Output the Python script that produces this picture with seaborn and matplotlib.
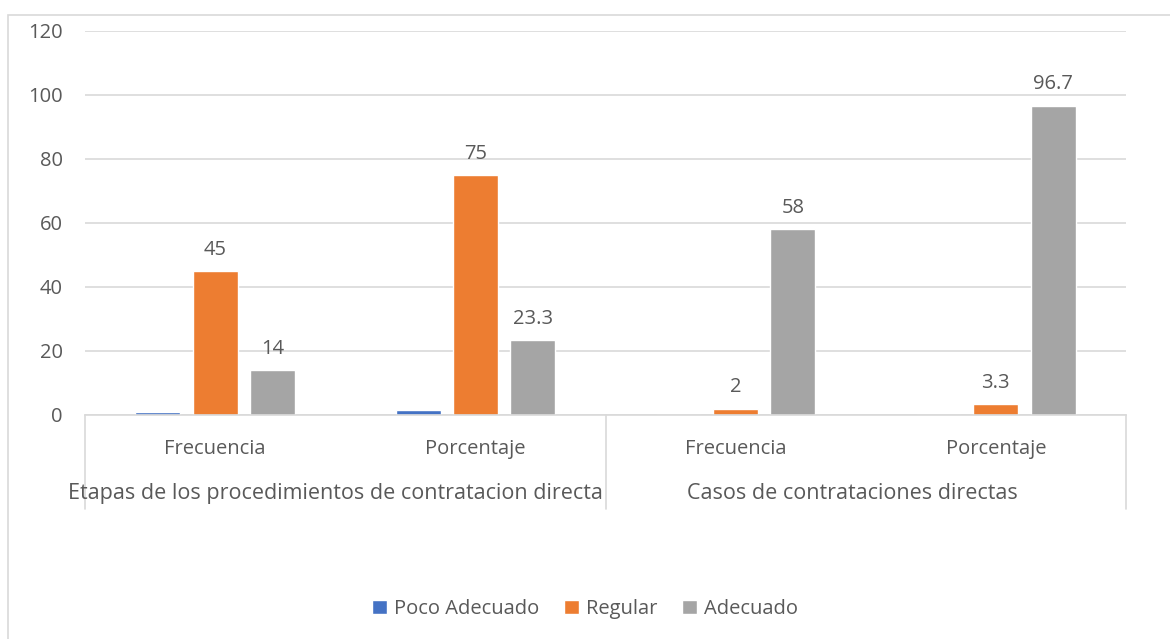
# Barras agrupadas: frecuencia y porcentaje por nivel de adecuación
import matplotlib

matplotlib.use("Agg")

import matplotlib.pyplot as plt  # noqa: E402
import pandas as pd  # noqa: E402
import seaborn as sns  # noqa: E402

# Datos
grupos = ["Etapas de los procedimientos de contratacion directa",
          "Casos de contrataciones directas"]
medidas = ["Frecuencia", "Porcentaje", "Frecuencia", "Porcentaje"]
niveles = ["Poco Adecuado", "Regular", "Adecuado"]
poco_adecuado = [1, 1.7, 0, 0]
regular = [45, 75, 2, 3.3]
adecuado = [14, 23.3, 58, 96.7]
yticks = [0, 20, 40, 60, 80, 100, 120]

colores = ["#4472C4", "#ED7D31", "#A5A5A5"]
gris_texto = "#595959"
gris_linea = "#D9D9D9"

# Tabla larga para seaborn; claves únicas porque las medidas se repiten
claves = [f"{i}-{m}" for i, m in enumerate(medidas)]
filas = []
for nivel, vals in zip(niveles, [poco_adecuado, regular, adecuado]):
    for k, v in zip(claves, vals):
        filas.append({"clave": k, "nivel": nivel, "valor": v})
df = pd.DataFrame(filas)

sns.set_theme(style="white")
plt.rcParams["font.family"] = ["Open Sans", "DejaVu Sans"]

fig = plt.figure(figsize=(11.7, 6.39), dpi=100)
# Marco exterior (solo se ven los bordes izquierdo y superior)
fig.patches.append(plt.Rectangle((8 / 1170, -0.1), 1.2, 1.1 - 15 / 639,
                                 transform=fig.transFigure, fill=False,
                                 edgecolor=gris_linea, linewidth=1.2))

ax = fig.add_axes([85 / 1170, 1 - 415 / 639, (1126 - 85) / 1170, 384 / 639])
sns.barplot(data=df, x="clave", y="valor", hue="nivel", order=claves,
            hue_order=niveles, palette=colores, width=0.66, gap=0.21,
            saturation=1, ax=ax, legend=True)

ax.set_ylim(0, 120)
ax.set_xlim(-0.5, 3.5)
ax.set_yticks(yticks)
ax.yaxis.grid(True, color=gris_linea, linewidth=1.2)
ax.set_axisbelow(True)
for s in ["top", "right", "left"]:
    ax.spines[s].set_visible(False)
ax.spines["bottom"].set_color(gris_linea)
ax.spines["bottom"].set_linewidth(1.2)
ax.tick_params(axis="y", length=0, pad=16, labelsize=14.5,
               labelcolor=gris_texto)
ax.set_xticks([])
ax.set_xlabel("")
ax.set_ylabel("")

# Etiquetas de valor solo en Regular y Adecuado
for cont, vals in zip(ax.containers[1:], [regular, adecuado]):
    ax.bar_label(cont, labels=[f"{v:g}" for v in vals], padding=8,
                 fontsize=14.5, color=gris_texto)

# Eje de categorías en dos niveles
trans = ax.get_xaxis_transform()
for xs in [-0.5, 1.5, 3.5]:
    ax.plot([xs, xs], [0, -0.245], transform=trans, color=gris_linea,
            linewidth=1.2, clip_on=False)
for i, m in enumerate(medidas):
    ax.text(i, -0.088, m, transform=trans, ha="center", va="center",
            fontsize=14.5, color=gris_texto)
# La etiqueta larga no cabe: se alinea contra el separador como en Excel
ax.text(1.49, -0.205, grupos[0], transform=trans, ha="right",
        va="center", fontsize=15.5, color=gris_texto)
ax.text(2.45, -0.205, grupos[1], transform=trans, ha="center",
        va="center", fontsize=15.5, color=gris_texto)

# Leyenda inferior centrada
handles, labels = ax.get_legend_handles_labels()
ax.get_legend().remove()
fig.legend(handles, labels, loc="center", ncol=3,
           bbox_to_anchor=(0.5, 1 - 609 / 639), frameon=False,
           fontsize=14.5, labelcolor=gris_texto, handlelength=0.75,
           handleheight=0.75, handletextpad=0.35, columnspacing=1.2)

fig.savefig("out.png", dpi=100)
plt.close(fig)
